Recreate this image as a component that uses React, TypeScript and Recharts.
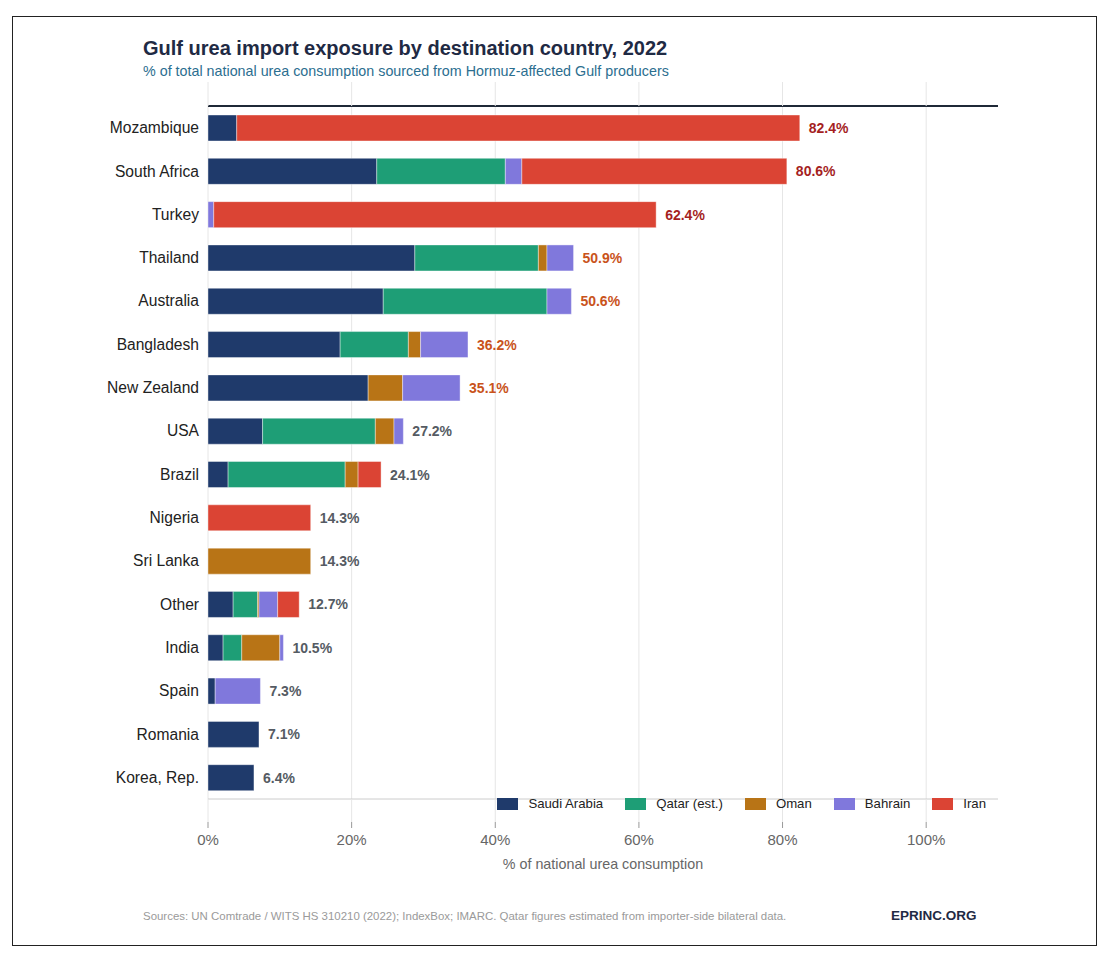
import React from 'react';
import { BarChart, Bar, XAxis, YAxis, CartesianGrid, LabelList } from 'recharts';

const COUNTRIES = [
  'Mozambique', 'South Africa', 'Turkey', 'Thailand', 'Australia', 'Bangladesh',
  'New Zealand', 'USA', 'Brazil', 'Nigeria', 'Sri Lanka', 'Other', 'India',
  'Spain', 'Romania', 'Korea, Rep.',
];

// share of national consumption, %
const SAUDI = [4.0, 23.5, 0, 28.8, 24.4, 18.4, 22.3, 7.6, 2.8, 0, 0, 3.5, 2.1, 1.0, 7.1, 6.4];
const QATAR = [0, 17.9, 0, 17.2, 22.8, 9.5, 0, 15.7, 16.3, 0, 0, 3.4, 2.6, 0, 0, 0];
const OMAN = [0, 0, 0, 1.2, 0, 1.7, 4.8, 2.6, 1.8, 0, 14.3, 0.2, 5.3, 0, 0, 0];
const BAHRAIN = [0, 2.3, 0.8, 3.7, 3.4, 6.6, 8.0, 1.3, 0, 0, 0, 2.6, 0.5, 6.3, 0, 0];
const IRAN = [78.4, 36.9, 61.6, 0, 0, 0, 0, 0, 3.2, 14.3, 0, 3.0, 0, 0, 0, 0];
const TOTALS = [82.4, 80.6, 62.4, 50.9, 50.6, 36.2, 35.1, 27.2, 24.1, 14.3, 14.3, 12.7, 10.5, 7.3, 7.1, 6.4];

const X_MAX = 110;
const X_TICKS = [0, 20, 40, 60, 80, 100];

const SERIES = [
  { key: 'saudi', name: 'Saudi Arabia', color: '#1f3a6b' },
  { key: 'qatar', name: 'Qatar (est.)', color: '#1e9e76' },
  { key: 'oman', name: 'Oman', color: '#b87416' },
  { key: 'bahrain', name: 'Bahrain', color: '#8078dc' },
  { key: 'iran', name: 'Iran', color: '#db4434' },
];

const data = COUNTRIES.map((country, i) => ({
  country,
  saudi: SAUDI[i],
  qatar: QATAR[i],
  oman: OMAN[i],
  bahrain: BAHRAIN[i],
  iran: IRAN[i],
  total: TOTALS[i],
}));

const FONT = '"Liberation Sans", Arial, Helvetica, sans-serif';

const labelColor = (v: number) => (v >= 60 ? '#a51f1f' : v >= 35 ? '#c9531b' : '#555b63');

// the outermost non-empty segment of a row carries the total label
const lastKey = (row: any) => {
  let k = '';
  SERIES.forEach((s) => {
    if (row[s.key] > 0) k = s.key;
  });
  return k;
};

const XTick = ({ x, y, payload }: any) => (
  <g>
    <line x1={x} x2={x} y1={y - 717} y2={y - 693} stroke="#e6e6e6" />
    <line x1={x} x2={x} y1={y} y2={y + 23} stroke="#e6e6e6" />
    <line x1={x} x2={x} y1={y + 23} y2={y + 29} stroke="#999" />
    <text x={x} y={y + 46} textAnchor="middle" fontSize={15} fill="#666" fontFamily={FONT}>
      {payload.value}%
    </text>
  </g>
);

const makeLabel = (seriesKey: string) => (props: any) => {
  const { x, y, width, height, value } = props;
  const row = data.find((d) => d.country === value);
  if (!row || lastKey(row) !== seriesKey) return null;
  return (
    <text
      x={x + width + 9}
      y={y + height / 2}
      dy={5}
      fontSize={14}
      fontWeight="bold"
      fill={labelColor(row.total)}
      fontFamily={FONT}
    >
      {row.total.toFixed(1)}%
    </text>
  );
};

const LegendBox = () => (
  <div
    style={{
      position: 'absolute', right: 122, top: 796, display: 'flex',
      fontFamily: FONT, fontSize: 13.2, lineHeight: '16px', color: '#222',
    }}
  >
    {SERIES.map((s, i) => (
      <div key={s.key} style={{ display: 'flex', alignItems: 'center', marginLeft: i === 0 ? 0 : 22 }}>
        <span style={{ display: 'inline-block', width: 21, height: 12, background: s.color, marginRight: 10 }} />
        <span>{s.name}</span>
      </div>
    ))}
  </div>
);

const gridX = ({ offset }: any) => X_TICKS.map((t) => offset.left + (t / X_MAX) * offset.width);

export default function App() {
  return (
    <div style={{ position: 'absolute', left: 0, top: 0, width: 1108, height: 957, fontFamily: FONT, background: '#fff' }}>
      <div
        style={{
          position: 'absolute', left: 12, top: 16, width: 1085, height: 930,
          border: '1px solid #222', boxSizing: 'border-box',
        }}
      />
      <div style={{ position: 'absolute', left: 143, top: 36, fontSize: 20, lineHeight: '24px', fontWeight: 'bold', color: '#1f2a44' }}>
        Gulf urea import exposure by destination country, 2022
      </div>
      <div style={{ position: 'absolute', left: 143, top: 62, fontSize: 14.3, lineHeight: '18px', color: '#2b6e8f' }}>
        % of total national urea consumption sourced from Hormuz-affected Gulf producers
      </div>
      <div style={{ position: 'absolute', left: 0, top: 0 }}>
        <BarChart
          width={1108}
          height={957}
          data={data}
          layout="vertical"
          barSize={26}
          margin={{ top: 105, right: 110, bottom: 0, left: 0 }}
        >
          <CartesianGrid horizontal={false} stroke="#e6e6e6" verticalCoordinatesGenerator={gridX} />
          <XAxis
            type="number"
            domain={[0, X_MAX]}
            ticks={X_TICKS}
            height={158}
            axisLine={{ stroke: '#cccccc' }}
            tickLine={false}
            tickSize={0}
            tickMargin={0}
            tick={<XTick />}
            interval={0}
          />
          <XAxis
            xAxisId="top"
            orientation="top"
            type="number"
            domain={[0, X_MAX]}
            height={1}
            tick={false}
            tickLine={false}
            axisLine={{ stroke: '#1f2937', strokeWidth: 2 }}
          />
          <YAxis
            type="category"
            dataKey="country"
            width={208}
            axisLine={false}
            tickLine={false}
            tickSize={0}
            tickMargin={9}
            interval={0}
            tick={{ fontSize: 15.6, fill: '#222', fontFamily: FONT }}
          />
          {SERIES.map((s) => (
            <Bar
              key={s.key}
              dataKey={s.key}
              name={s.name}
              stackId="a"
              fill={s.color}
              stroke="#ffffff"
              strokeWidth={0.4}
              isAnimationActive={false}
            >
              <LabelList dataKey="country" content={makeLabel(s.key)} />
            </Bar>
          ))}
        </BarChart>
      </div>
      <LegendBox />
      <div style={{ position: 'absolute', left: 0, width: 1206, top: 856, textAlign: 'center', fontSize: 14.3, color: '#666' }}>
        % of national urea consumption
      </div>
      <div style={{ position: 'absolute', left: 143, top: 910, fontSize: 11.45, color: '#9a9a9a' }}>
        Sources: UN Comtrade / WITS HS 310210 (2022); IndexBox; IMARC. Qatar figures estimated from importer-side bilateral data.
      </div>
      <div style={{ position: 'absolute', left: 891, top: 908, fontSize: 13.5, fontWeight: 'bold', color: '#1f2a44' }}>
        EPRINC.ORG
      </div>
    </div>
  );
}
